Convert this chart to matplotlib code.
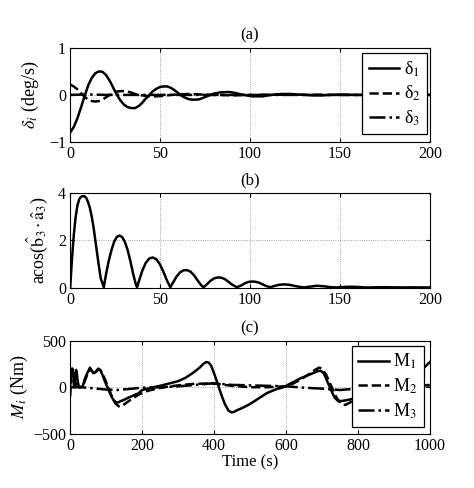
import matplotlib
matplotlib.use("Agg")
import matplotlib.pyplot as plt

plt.rcParams["font.family"] = ["Liberation Serif", "DejaVu Serif"]
plt.rcParams["mathtext.fontset"] = "stix"

# (a) angular rate errors, deg/s
t_a1 = [0, 2, 4, 6, 8, 10, 12, 14, 16, 18, 20, 22, 24, 26, 28, 30, 32, 34, 36, 38, 40,
        42, 44, 46, 48, 50, 52, 54, 56, 58, 60, 62, 64, 66, 68, 70, 72, 74, 76, 78, 80,
        83, 86, 89, 92, 95, 98, 101, 104, 107, 110, 114, 118, 122, 126, 130, 135, 140,
        145, 150, 160, 170, 200]
delta1 = [-0.80, -0.68, -0.50, -0.27, -0.03, 0.20, 0.36, 0.46, 0.50, 0.49, 0.42, 0.30,
          0.15, 0.00, -0.12, -0.21, -0.26, -0.28, -0.28, -0.24, -0.17, -0.08, 0.00, 0.08,
          0.13, 0.17, 0.18, 0.18, 0.15, 0.10, 0.04, -0.02, -0.06, -0.09, -0.10, -0.10,
          -0.09, -0.06, -0.03, 0.00, 0.03, 0.05, 0.06, 0.06, 0.04, 0.01, -0.01, -0.03,
          -0.03, -0.03, -0.01, 0.01, 0.02, 0.02, 0.01, 0.00, -0.01, -0.01, 0.00, 0.005,
          0.0, 0.0, 0.0]
t_a2 = [0, 2, 4, 6, 8, 10, 12, 14, 16, 18, 20, 22, 24, 26, 28, 30, 32, 34, 36, 40, 44,
        48, 52, 56, 60, 66, 72, 80, 90, 100, 120, 150, 200]
delta2 = [0.22, 0.18, 0.12, 0.04, -0.04, -0.10, -0.13, -0.14, -0.13, -0.10, -0.05, 0.00,
          0.04, 0.07, 0.08, 0.08, 0.07, 0.05, 0.02, -0.01, -0.03, -0.03, -0.02, 0.00,
          0.01, 0.02, 0.01, 0.00, -0.01, 0.00, 0.005, 0.0, 0.0]
t_a3 = [0, 10, 20, 40, 80, 120, 200]
delta3 = [0.0, 0.01, 0.0, 0.0, 0.0, 0.0, 0.0]

# (b) pointing angle
t_b = [0, 1, 2, 3, 4, 5, 6, 7, 8, 9, 10, 11, 12, 13, 14, 15, 16, 17, 18.7,
       20, 21.5, 23, 24.5, 26, 27.5, 29, 30.5, 32, 33.5, 35, 36.5, 37.2,
       38.5, 40, 42, 44, 46, 48, 50, 52, 54, 55.7,
       57, 59, 61, 63, 65, 67, 69, 71, 73, 74.2,
       76, 78, 80, 82, 84, 86, 88, 90, 92.7,
       95, 97, 99, 101, 103, 105, 107, 109, 111.2,
       113, 116, 119, 122, 125, 128, 130,
       133, 137, 141, 145, 148,
       152, 156, 160, 164, 167, 172, 176, 180, 185, 190, 195, 200]
angle_b = [0.0, 1.2, 2.2, 2.95, 3.45, 3.72, 3.83, 3.86, 3.85, 3.78, 3.60, 3.35, 3.00,
           2.55, 2.00, 1.45, 0.90, 0.40, 0.03,
           0.60, 1.15, 1.60, 1.95, 2.15, 2.20, 2.13, 1.92, 1.58, 1.12, 0.60, 0.15, 0.03,
           0.35, 0.70, 1.05, 1.24, 1.28, 1.20, 0.98, 0.65, 0.28, 0.03,
           0.20, 0.46, 0.65, 0.74, 0.75, 0.68, 0.52, 0.30, 0.10, 0.03,
           0.15, 0.30, 0.40, 0.44, 0.43, 0.37, 0.26, 0.14, 0.03,
           0.10, 0.19, 0.25, 0.27, 0.26, 0.22, 0.15, 0.08, 0.03,
           0.07, 0.13, 0.15, 0.13, 0.08, 0.04, 0.02,
           0.05, 0.09, 0.07, 0.03, 0.02,
           0.04, 0.05, 0.04, 0.02, 0.02, 0.03, 0.03, 0.025, 0.02, 0.025, 0.02, 0.02]

# (c) control torques, Nm
t_c1 = [0, 3, 6, 9, 12, 15, 18, 21, 25, 30, 35, 40, 45, 50, 55, 60, 65, 70, 75, 80, 85,
        90, 95, 100, 105, 110, 115, 120, 125, 130, 135, 140, 150, 160, 175, 190, 200,
        225, 250, 275, 300, 320, 340, 360, 370, 378, 385, 392, 400, 410, 420, 430, 440,
        448, 455, 465, 480, 500, 520, 546, 570, 593, 615, 640, 665, 690, 697, 705, 715,
        725, 735, 745, 760, 780, 800, 820, 850, 880, 910, 940, 960, 975, 985, 1000]
M1 = [0, 180, 200, 120, 20, 150, 170, 60, 0, 0, 10, 80, 130, 170, 200, 180, 150, 160,
      185, 195, 175, 130, 80, 30, -10, -60, -100, -135, -155, -165, -160, -150, -135,
      -115, -90, -65, -30, -5, 15, 40, 65, 100, 150, 210, 250, 270, 265, 230, 150, 40,
      -80, -180, -250, -270, -265, -245, -220, -180, -130, -65, -25, 0, 45, 95, 135,
      175, 175, 150, 60, -30, -110, -150, -145, -130, -110, -80, -45, -15, 15, 60, 110,
      170, 215, 270]
t_c2 = [0, 3, 5, 8, 11, 14, 17, 20, 25, 30, 35, 40, 50, 55, 60, 70, 78, 85, 95, 105,
        115, 125, 135, 145, 155, 170, 190, 210, 240, 270, 300, 340, 380, 400, 420, 450,
        500, 550, 600, 620, 640, 660, 680, 692, 700, 712, 725, 740, 755, 765, 780, 800,
        850, 900, 950, 1000]
M2 = [-100, 100, 200, 180, 0, 200, 180, 20, 0, 5, 0, 60, 160, 210, 170, 150, 200, 180,
      100, 10, -90, -170, -205, -200, -170, -130, -80, -45, -15, 5, 20, 35, 40, 42, 30,
      15, 0, 0, 10, 40, 80, 130, 185, 210, 200, 130, 20, -110, -185, -190, -160, -110,
      -40, -5, 10, 25]
t_c3 = [0, 30, 60, 100, 130, 160, 200, 250, 300, 350, 390, 420, 450, 500, 550, 600,
        650, 700, 750, 780, 800, 850, 900, 1000]
M3 = [0, 0, -10, -25, -30, -20, -5, 0, 10, 25, 40, 35, 25, 20, 15, 10, -5, -15, -30,
      -20, -5, 0, 10, 20]

fig = plt.figure(figsize=(4.74, 4.88), dpi=100)
ax_a = fig.add_axes([0.148, 0.709, 0.759, 0.193])
ax_b = fig.add_axes([0.148, 0.410, 0.759, 0.195])
ax_c = fig.add_axes([0.148, 0.111, 0.759, 0.191])

lw = 1.8
ax_a.plot(t_a1, delta1, "k-", lw=lw, label="δ$_1$")
ax_a.plot(t_a2, delta2, "k--", lw=lw, label="δ$_2$")
ax_a.plot(t_a3, delta3, "k-.", lw=lw, label="δ$_3$")
ax_a.set_xlim(0, 200)
ax_a.set_ylim(-1, 1)
ax_a.set_xticks([0, 50, 100, 150, 200])
ax_a.set_yticks([-1, 0, 1])
ax_a.set_ylabel(r"$\delta_i$ (deg/s)", fontsize=13, labelpad=6)
ax_a.set_title("(a)", fontsize=12, pad=6)

ax_b.plot(t_b, angle_b, "k-", lw=lw)
ax_b.set_xlim(0, 200)
ax_b.set_ylim(0, 4)
ax_b.set_xticks([0, 50, 100, 150, 200])
ax_b.set_yticks([0, 2, 4])
ax_b.set_ylabel(r"acos($\hat{\rm b}_3\cdot\hat{\rm a}_3$)", fontsize=13, labelpad=6)
ax_b.set_title("(b)", fontsize=12, pad=6)

ax_c.plot(t_c1, M1, "k-", lw=lw, label="M$_1$")
ax_c.plot(t_c2, M2, "k--", lw=lw, label="M$_2$")
ax_c.plot(t_c3, M3, "k-.", lw=lw, label="M$_3$")
ax_c.set_xlim(0, 1000)
ax_c.set_ylim(-500, 500)
ax_c.set_xticks([0, 200, 400, 600, 800, 1000])
ax_c.set_yticks([-500, 0, 500])
ax_c.set_ylabel(r"$M_i$ (Nm)", fontsize=13, labelpad=2)
ax_c.set_xlabel("Time (s)", fontsize=12, labelpad=0)
ax_c.set_title("(c)", fontsize=12, pad=6)

for ax in (ax_a, ax_b, ax_c):
    ax.grid(True, color="#888888", linestyle=":", linewidth=0.6)
    ax.tick_params(direction="in", top=True, right=True, labelsize=11.5, length=3,
                   pad=3)
    for sp in ax.spines.values():
        sp.set_linewidth(0.8)

for ax, anchor in ((ax_a, (0.992, 0.947)), (ax_c, (0.983, 0.946))):
    leg = ax.legend(loc="upper right", bbox_to_anchor=anchor, borderaxespad=0,
                    fontsize=13, handlelength=1.7, handletextpad=0.25,
                    labelspacing=0.3, borderpad=0.35,
                    fancybox=False, framealpha=1, edgecolor="black")
    leg.get_frame().set_linewidth(0.9)

fig.savefig("out.png", dpi=100)
